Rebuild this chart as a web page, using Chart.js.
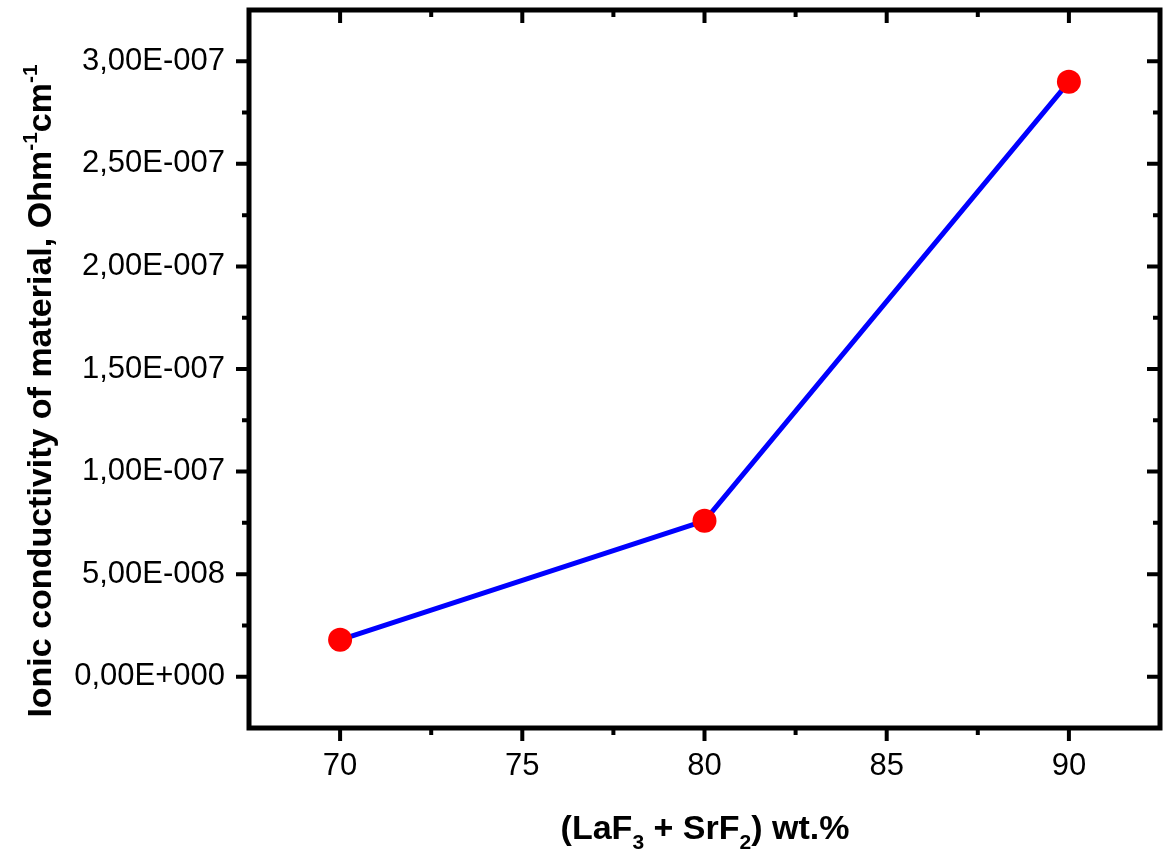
<!DOCTYPE html>
<html>
<head>
<meta charset="utf-8">
<script src="https://cdn.jsdelivr.net/npm/chart.js@4/dist/chart.umd.min.js"></script>
<style>
  html, body { margin: 0; padding: 0; background: #fff; overflow: hidden; }
  #wrap { width: 1163px; height: 853px; }
  canvas { display: block; }
</style>
</head>
<body>
<div id="wrap"><canvas id="myChart" width="1163" height="853"></canvas></div>
<script>
// data
var xValues = [70, 80, 90];
var conductivity = [1.8e-8, 7.6e-8, 2.9e-7];

// axis ticks
var xTicks = [70, 75, 80, 85, 90];
var yTicks = [0, 5e-8, 1e-7, 1.5e-7, 2e-7, 2.5e-7, 3e-7];
var xRange = [67.5, 92.5];
var yRange = [-2.5e-8, 3.25e-7];

var FONT = "'Liberation Sans', Arial, sans-serif";

// 3,00E-007 style labels
function fmtSci(v) {
  var s = Number(v).toExponential(2);
  var parts = s.split("e");
  var mant = parts[0].replace(".", ",");
  var exp = parseInt(parts[1], 10);
  var sign = exp < 0 ? "-" : "+";
  var e = String(Math.abs(exp));
  while (e.length < 3) e = "0" + e;
  return mant + "E" + sign + e;
}

function minors(list) {
  var step = list[1] - list[0];
  var out = [];
  for (var i = 0; i < list.length; i++) out.push(list[i] - step / 2);
  out.push(list[list.length - 1] + step / 2);
  return out;
}

// text with sub / sup parts
function drawRich(ctx, parts, size) {
  var small = Math.round(size * 0.62);
  var total = 0;
  parts.forEach(function (p) {
    ctx.font = "bold " + (p.s ? small : size) + "px " + FONT;
    p.w = ctx.measureText(p.t).width;
    total += p.w;
  });
  var x = -total / 2;
  parts.forEach(function (p) {
    ctx.font = "bold " + (p.s ? small : size) + "px " + FONT;
    var dy = 0;
    if (p.s === "sub") dy = size * 0.28;
    if (p.s === "sup") dy = -size * 0.42;
    ctx.fillText(p.t, x, dy);
    x += p.w;
  });
}

// no extra room for edge labels, the frame is fixed
function noPad(s) {
  s.paddingLeft = 0; s.paddingRight = 0; s.paddingTop = 0; s.paddingBottom = 0;
}

var framePlugin = {
  id: "frame",
  afterDraw: function (chart) {
    var ctx = chart.ctx;
    var a = chart.chartArea;
    var xs = chart.scales.x;
    var ys = chart.scales.y;
    var major = 13, minor = 7;
    ctx.save();
    ctx.strokeStyle = "#000";
    ctx.lineWidth = 4;
    ctx.lineCap = "butt";
    ctx.beginPath();
    xTicks.forEach(function (v) {
      var px = xs.getPixelForValue(v);
      ctx.moveTo(px, a.bottom); ctx.lineTo(px, a.bottom + major);
      ctx.moveTo(px, a.top); ctx.lineTo(px, a.top + major);
    });
    minors(xTicks).forEach(function (v) {
      if (v <= xRange[0] || v >= xRange[1]) return;
      var px = xs.getPixelForValue(v);
      ctx.moveTo(px, a.bottom); ctx.lineTo(px, a.bottom + minor);
      ctx.moveTo(px, a.top); ctx.lineTo(px, a.top + minor);
    });
    yTicks.forEach(function (v) {
      var py = ys.getPixelForValue(v);
      ctx.moveTo(a.left, py); ctx.lineTo(a.left - major, py);
      ctx.moveTo(a.right, py); ctx.lineTo(a.right - major, py);
    });
    minors(yTicks).forEach(function (v) {
      if (v <= yRange[0] || v >= yRange[1] - 1e-12) return;
      var py = ys.getPixelForValue(v);
      ctx.moveTo(a.left, py); ctx.lineTo(a.left - minor, py);
      ctx.moveTo(a.right, py); ctx.lineTo(a.right - minor, py);
    });
    ctx.stroke();

    ctx.lineWidth = 5;
    ctx.strokeRect(a.left, a.top, a.right - a.left, a.bottom - a.top);

    // axis titles
    ctx.fillStyle = "#000";
    ctx.textBaseline = "alphabetic";
    ctx.textAlign = "left";
    ctx.save();
    ctx.translate(705, 839);
    drawRich(ctx, [
      { t: "(LaF" }, { t: "3", s: "sub" }, { t: " + SrF" }, { t: "2", s: "sub" }, { t: ") wt.%" }
    ], 34);
    ctx.restore();

    ctx.save();
    ctx.translate(51, 391);
    ctx.rotate(-Math.PI / 2);
    drawRich(ctx, [
      { t: "Ionic conductivity of material, Ohm" }, { t: "-1", s: "sup" },
      { t: "cm" }, { t: "-1", s: "sup" }
    ], 34);
    ctx.restore();
    ctx.restore();
  }
};

var myChart = document.getElementById("myChart").getContext("2d");

var chart = new Chart(myChart, {
  type: "line",
  data: {
    datasets: [
      {
        label: "conductivity",
        data: xValues.map(function (x, i) { return { x: x, y: conductivity[i] }; }),
        borderColor: "rgb(0, 0, 255)",
        borderWidth: 5,
        backgroundColor: "rgb(255, 0, 0)",
        pointBackgroundColor: "rgb(255, 0, 0)",
        pointBorderWidth: 0,
        pointRadius: 12,
        tension: 0,
        clip: false,
      },
    ],
  },
  options: {
    responsive: false,
    animation: false,
    events: [],
    layout: { autoPadding: false, padding: { top: 10, right: 3, left: 0, bottom: 0 } },
    plugins: { legend: { display: false }, tooltip: { enabled: false } },
    scales: {
      x: {
        type: "linear",
        min: xRange[0],
        max: xRange[1],
        afterFit: function (s) { s.height = 125; noPad(s); },
        afterBuildTicks: function (s) {
          s.ticks = xTicks.map(function (v) { return { value: v }; });
        },
        grid: { display: false, drawTicks: true, tickLength: 13 },
        border: { display: false },
        ticks: {
          color: "#000",
          padding: 7,
          maxRotation: 0,
          autoSkip: false,
          font: { family: FONT, size: 31 },
          callback: function (v) { return String(v); },
        },
      },
      y: {
        type: "linear",
        min: yRange[0],
        max: yRange[1],
        afterFit: function (s) { s.width = 249; noPad(s); },
        afterBuildTicks: function (s) {
          s.ticks = yTicks.map(function (v) { return { value: v }; });
        },
        grid: { display: false, drawTicks: true, tickLength: 13 },
        border: { display: false },
        ticks: {
          color: "#000",
          padding: 11,
          autoSkip: false,
          font: { family: FONT, size: 31 },
          callback: function (v) { return fmtSci(v); },
        },
      },
    },
  },
  plugins: [framePlugin],
});
</script>
</body>
</html>
